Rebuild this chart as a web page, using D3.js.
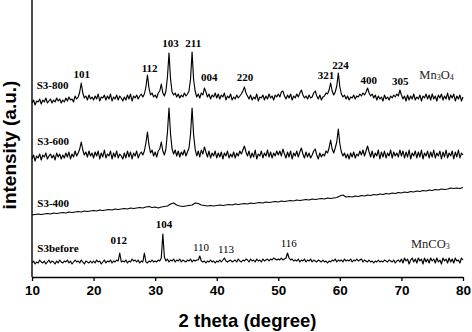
<!DOCTYPE html>
<html>
<head>
<meta charset="utf-8">
<script src="https://cdn.jsdelivr.net/npm/d3@7"></script>
<style>
	body { margin: 0; background: #fff; }
	svg { display: block; }
</style>
</head>
<body>
<div id="chart"><svg width="472" height="332"></svg></div>
<script>
// 2 theta sampling grids
var twoThetaFine = d3.range(10, 80.1, 0.25);
var twoThetaCoarse = d3.range(10, 80.1, 0.5);

// intensity (a.u.), offset stacked as in the figure; fine grid, one row = 5 degrees
var s3_800 = [
	174,177,172,176,175,178,173,177,175,179,174,176,178,174,177,175,179,176,178,174,
	177,175,179,176,180,177,178,175,181,178,180,185,194,184,179,181,177,182,178,180,
	177,181,178,183,176,180,179,182,177,181,178,183,176,180,178,182,177,181,179,176,
	180,177,182,178,183,176,181,179,182,178,181,183,180,183,190,202,189,182,184,180,
	182,179,184,186,193,184,181,186,200,224,198,185,182,184,180,183,179,182,180,184,
	181,183,186,198,225,197,186,180,183,179,184,182,189,185,180,183,178,182,180,184,
	179,183,178,182,180,184,177,181,179,183,177,180,178,182,179,181,183,186,190,184,
	181,178,182,177,180,178,183,176,180,179,182,177,181,178,183,179,181,177,182,180,
	183,180,185,186,181,178,182,179,183,177,181,179,183,180,184,187,182,179,181,178,
	182,179,180,184,186,181,178,182,177,180,181,184,183,187,194,186,182,185,191,204,
	190,183,180,182,178,181,177,180,179,182,178,181,180,183,181,184,182,185,189,184,
	181,183,179,182,177,181,178,180,176,182,178,180,177,181,179,182,180,183,181,187,
	182,178,181,176,182,177,181,178,183,177,180,178,182,176,181,179,183,178,182,177,
	183,178,181,176,182,179,183,177,181,178,184,177,182,179,183,176,181,178,182,176,
	180
];
var s3_600 = [
	118,122,116,121,119,123,117,122,120,124,118,121,123,119,122,117,124,120,123,118,
	122,119,124,120,125,118,123,120,126,121,124,128,135,127,122,125,120,126,121,124,
	119,125,121,126,118,124,120,127,119,123,121,126,118,124,120,126,119,123,121,118,
	124,119,126,120,125,118,124,121,126,119,123,125,122,126,134,145,132,124,127,121,
	125,120,126,128,135,126,122,128,145,169,143,128,123,127,121,126,120,125,122,127,
	121,125,129,143,169,142,128,121,126,120,127,123,130,125,120,126,119,124,121,126,
	119,124,120,125,118,124,121,126,119,123,120,125,119,124,121,126,123,127,131,125,
	121,126,119,124,120,127,118,123,121,126,119,124,121,127,120,125,119,124,121,126,
	122,126,121,128,123,119,125,120,126,118,124,121,126,120,125,129,123,119,125,120,
	124,119,122,126,128,122,118,124,120,123,121,126,124,129,137,128,124,129,135,148,
	133,125,121,124,119,123,118,124,120,125,119,123,121,126,122,127,121,126,131,125,
	120,126,119,124,121,127,118,125,120,126,119,124,121,127,119,125,121,124,120,127,
	121,126,119,125,120,127,118,124,121,126,119,125,120,127,118,124,121,126,119,125,
	120,127,119,124,121,126,118,125,120,127,119,124,121,126,118,125,120,127,119,124,
	122
];
// coarse grid, one row = 10 degrees
var s3_400 = [
	62,62.5,63,62.5,63,63.5,63,64,63.5,64,64.5,64,65,64.5,65,65.5,65,66,65.5,66,
	66.5,66,67,66.5,67,67.5,67,68,67.5,68,68.5,68,69,68.5,69,69.5,69,70,70.5,69.5,
	70,69,70,70.5,71,73,74,72,71,70.5,71,71.5,72,74,73.5,72,71.5,71,71.5,71,
	71.5,72,71.5,72,72.5,72,73,72.5,73,73.5,73,74,73.5,74,74.5,74,75,74.5,75,75.5,
	75,76,75.5,76,76.5,76,77,76.5,77,77.5,77,78,77.5,78,78.5,78,79,78.5,79,79.5,
	81,82,80,80.5,80,81,80.5,81.5,81,82,81.5,82.5,82,83,82.5,83.5,83,84,83.5,84.5,
	84,85,84.5,85.5,85,86,85.5,86.5,86,87,86.5,87.5,87,88,87.5,88,89,88.5,89,88.5,
	89.5
];
// fine grid, one row = 5 degrees
var s3_before = [
	14,16,13,15,14,17,15,14,16,13,15,17,14,16,15,13,16,14,17,15,
	14,16,15,17,14,16,13,15,17,15,16,14,17,15,13,16,15,14,16,14,
	16,14,17,15,16,13,15,17,14,16,15,17,14,16,15,17,16,24,15,16,
	15,17,14,16,15,18,16,17,15,17,14,16,15,24,15,14,16,15,17,15,
	16,15,17,16,19,43,20,16,18,15,17,16,18,15,17,16,18,15,17,16,
	15,17,16,18,15,17,16,17,17,21,16,15,16,14,16,15,17,15,16,14,
	16,15,17,15,17,19,16,15,16,17,15,16,17,15,18,16,15,17,16,18,
	17,15,18,16,17,15,18,16,17,15,18,16,17,18,16,18,17,19,18,17,
	18,17,19,17,18,19,24,19,17,18,16,17,16,18,15,17,16,18,15,17,
	16,18,15,17,16,15,17,16,15,17,15,16,14,16,15,17,16,18,15,17,
	16,17,15,18,16,17,16,18,15,17,16,18,16,17,18,15,17,16,15,17,
	15,16,14,16,15,17,15,16,15,17,16,15,17,16,15,17,14,16,17,15,
	18,14,19,16,18,13,17,19,15,18,14,19,16,18,13,19,15,18,14,19,
	16,18,14,19,15,17,13,19,16,18,14,19,15,18,14,19,16,17,14,19,
	17
];

var seriesList = [
	{ values: s3_800, grid: twoThetaFine },
	{ values: s3_600, grid: twoThetaFine },
	{ values: s3_400, grid: twoThetaCoarse },
	{ values: s3_before, grid: twoThetaFine }
];

// sample names: [text, 2theta, intensity]
var sampleLabels = [
	['S3-800', 10.76, 188],
	['S3-600', 10.86, 132],
	['S3-400', 10.86, 70.5],
	['S3before', 10.86, 25]
];

// (hkl) labels: [text, 2theta, intensity, bold]
var peakLabels = [
	['101', 18.1, 199, true],
	['112', 29.1, 205.5, true],
	['103', 32.5, 230.5, true],
	['211', 36.2, 230.5, true],
	['004', 38.8, 196.5, true],
	['220', 44.6, 196.5, true],
	['321', 57.75, 198, true],
	['224', 60.1, 208, true],
	['400', 64.7, 193.3, true],
	['305', 69.8, 192.3, true],
	['012', 24.1, 33, true],
	['104', 31.45, 49, true],
	['110', 37.45, 26, false],
	['113', 41.5, 24, false],
	['116', 51.7, 30, false]
];

// phase names: [parts, 2theta, intensity], odd parts are subscripts
var phaseLabels = [
	[['Mn', '3', 'O', '4'], 72.9, 198],
	[['MnCO', '3'], 71.55, 29]
];

var xTicks = [10, 20, 30, 40, 50, 60, 70, 80];

var svg = d3.select('#chart > svg');

var xScale = d3.scaleLinear()
	.domain([10, 80])
	.range([32, 463]);
var yScale = d3.scaleLinear()
	.domain([0, 275])
	.range([277, 2]);

// x axis
var xAxis = svg.append('g')
	.attr('transform', 'translate(0,' + yScale(0) + ')')
	.call(d3.axisBottom(xScale).tickValues(xTicks).tickSizeInner(4).tickSizeOuter(0).tickPadding(4));
xAxis.select('.domain').attr('stroke', '#000').attr('stroke-width', 1.4);
xAxis.selectAll('.tick line').attr('stroke', '#000').attr('stroke-width', 1.3);
xAxis.selectAll('.tick text')
	.attr('fill', '#000')
	.style('font-family', '"Liberation Sans", Arial, sans-serif')
	.style('font-weight', 'bold')
	.style('font-size', '13.5px');

// y axis: plain line, no ticks
svg.append('line')
	.attr('x1', xScale(10)).attr('x2', xScale(10))
	.attr('y1', yScale(0)).attr('y2', yScale(277))
	.attr('stroke', '#000')
	.attr('stroke-width', 1.4);

// patterns
svg.append('g').selectAll('path')
	.data(seriesList)
	.enter()
	.append('path')
	.attr('d', function(s) {
		return d3.line()
			.x(function(d, i) { return xScale(s.grid[i]); })
			.y(function(d) { return yScale(d); })(s.values);
	})
	.attr('fill', 'none')
	.attr('stroke', '#000')
	.attr('stroke-width', 1.15)
	.attr('stroke-linejoin', 'round');

// sample labels
svg.append('g').selectAll('text')
	.data(sampleLabels)
	.enter()
	.append('text')
	.attr('x', function(d) { return xScale(d[1]); })
	.attr('y', function(d) { return yScale(d[2]); })
	.text(function(d) { return d[0]; })
	.style('font-family', '"Liberation Serif", "Times New Roman", serif')
	.style('font-weight', 'bold')
	.style('font-size', '11px');

// hkl labels
svg.append('g').selectAll('text')
	.data(peakLabels)
	.enter()
	.append('text')
	.attr('x', function(d) { return xScale(d[1]); })
	.attr('y', function(d) { return yScale(d[2]); })
	.attr('text-anchor', 'middle')
	.text(function(d) { return d[0]; })
	.style('font-family', '"Liberation Serif", "Times New Roman", serif')
	.style('font-weight', function(d) { return d[3] ? 'bold' : 'normal'; })
	.style('font-size', '11px');

// phase labels with subscripts
phaseLabels.forEach(function(p) {
	var t = svg.append('text')
		.attr('x', xScale(p[1]))
		.attr('y', yScale(p[2]))
		.style('font-family', '"Liberation Serif", "Times New Roman", serif')
		.style('font-size', '12.5px')
		.attr('fill', '#222');
	p[0].forEach(function(part, i) {
		var sub = i % 2 === 1;
		t.append('tspan')
			.attr('dy', sub ? 1 : (i > 0 ? -1 : 0))
			.style('font-size', sub ? '8px' : '12.5px')
			.text(part);
	});
});

// axis titles
svg.append('text')
	.attr('x', 247.5)
	.attr('y', 326.5)
	.attr('text-anchor', 'middle')
	.text('2 theta (degree)')
	.style('font-family', '"Liberation Sans", Arial, sans-serif')
	.style('font-weight', 'bold')
	.style('font-size', '18.5px');

svg.append('text')
	.attr('transform', 'translate(16,145) rotate(-90)')
	.attr('text-anchor', 'middle')
	.text('intensity (a.u.)')
	.style('font-family', '"Liberation Sans", Arial, sans-serif')
	.style('font-weight', 'bold')
	.style('font-size', '19px');
</script>
</body>
</html>
